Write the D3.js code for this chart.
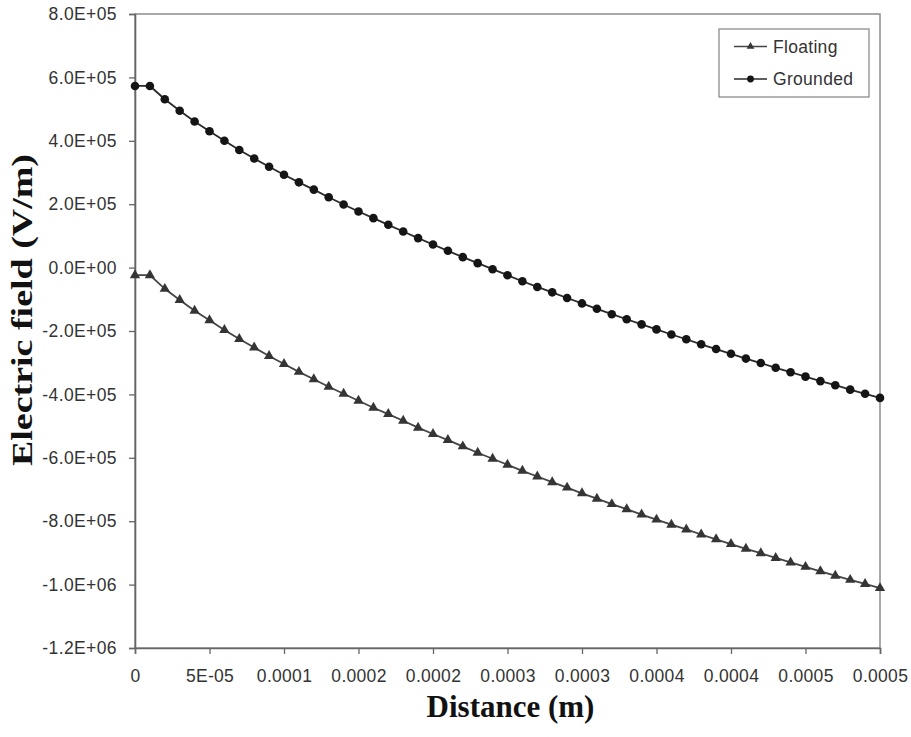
<!DOCTYPE html>
<html>
<head>
<meta charset="utf-8">
<script src="https://cdn.jsdelivr.net/npm/d3@7"></script>
<style>
  html, body { margin: 0; padding: 0; background: #ffffff; }
  svg { display: block; }
</style>
</head>
<body>
<svg id="chart" width="911" height="737"></svg>
<script>
// ---------------- DATA ----------------
const distance = [
  0, 0.00001, 0.00002, 0.00003, 0.00004, 0.00005, 0.00006, 0.00007, 0.00008, 0.00009,
  0.0001, 0.00011, 0.00012, 0.00013, 0.00014, 0.00015, 0.00016, 0.00017, 0.00018, 0.00019,
  0.0002, 0.00021, 0.00022, 0.00023, 0.00024, 0.00025, 0.00026, 0.00027, 0.00028, 0.00029,
  0.0003, 0.00031, 0.00032, 0.00033, 0.00034, 0.00035, 0.00036, 0.00037, 0.00038, 0.00039,
  0.0004, 0.00041, 0.00042, 0.00043, 0.00044, 0.00045, 0.00046, 0.00047, 0.00048, 0.00049,
  0.0005
];
const grounded = [
  573000, 573000, 531000, 495000, 461000, 430000, 400000, 371000, 344000, 318000,
  293000, 269000, 246000, 222000, 199000, 177000, 156000, 135000, 114000, 93000,
  73000, 53000, 33000, 14000, -5000, -24000, -43000, -61000, -78000, -96000,
  -113000, -130000, -147000, -163000, -179000, -195000, -211000, -226000, -242000, -257000,
  -272000, -287000, -301000, -316000, -330000, -344000, -358000, -371000, -385000, -398000,
  -411000
];
const floating = [
  -24000, -24000, -67000, -102000, -136000, -166000, -197000, -225000, -252000, -279000,
  -304000, -329000, -352000, -376000, -398000, -420000, -442000, -462000, -483000, -505000,
  -525000, -544000, -564000, -584000, -603000, -622000, -641000, -659000, -677000, -694000,
  -712000, -729000, -746000, -762000, -779000, -795000, -811000, -826000, -842000, -857000,
  -872000, -887000, -901000, -916000, -930000, -944000, -958000, -972000, -985000, -998000,
  -1011000
];
const xTickValues = [0, 0.00005, 0.0001, 0.00015, 0.0002, 0.00025, 0.0003, 0.00035, 0.0004, 0.00045, 0.0005];
const xTickLabels = ["0", "5E-05", "0.0001", "0.0002", "0.0002", "0.0003", "0.0003", "0.0004", "0.0004", "0.0005", "0.0005"];
const yTickValues = [800000, 600000, 400000, 200000, 0, -200000, -400000, -600000, -800000, -1000000, -1200000];
const yTickLabels = ["8.0E+05", "6.0E+05", "4.0E+05", "2.0E+05", "0.0E+00", "-2.0E+05", "-4.0E+05", "-6.0E+05", "-8.0E+05", "-1.0E+06", "-1.2E+06"];
const seriesNames = ["Floating", "Grounded"];
const xTitle = "Distance (m)";
const yTitle = "Electric field (V/m)";

// ---------------- LAYOUT ----------------
const L = 135, R = 880, T = 14, B = 648;
const svg = d3.select("#chart");

const x = d3.scaleLinear().domain([0, 0.0005]).range([L, R]);
const y = d3.scaleLinear().domain([-1200000, 800000]).range([B, T]);

const sansFont = "'Liberation Sans', Arial, sans-serif";
const serifFont = "'Liberation Serif', 'Times New Roman', serif";

// plot frame
svg.append("rect")
  .attr("x", L).attr("y", T).attr("width", R - L).attr("height", B - T)
  .attr("fill", "#ffffff").attr("stroke", "#8c8c8c").attr("stroke-width", 1.5);

// y axis
const yAxis = svg.append("g").attr("transform", `translate(${L},0)`)
  .call(d3.axisLeft(y).tickValues(yTickValues).tickFormat((d, i) => yTickLabels[i]).tickSize(6).tickPadding(12));
yAxis.select(".domain").attr("stroke", "#666").attr("stroke-width", 1.6);
yAxis.selectAll(".tick line").attr("stroke", "#666").attr("stroke-width", 1.3);
yAxis.selectAll(".tick text").attr("font-family", sansFont).attr("font-size", 17.5)
  .attr("fill", "#333").attr("letter-spacing", "0.4px");

// x axis
const xAxis = svg.append("g").attr("transform", `translate(0,${B})`)
  .call(d3.axisBottom(x).tickValues(xTickValues).tickFormat((d, i) => xTickLabels[i]).tickSize(6).tickPadding(16));
xAxis.select(".domain").attr("stroke", "#666").attr("stroke-width", 1.6);
xAxis.selectAll(".tick line").attr("stroke", "#666").attr("stroke-width", 1.3);
xAxis.selectAll(".tick text").attr("font-family", sansFont).attr("font-size", 17.5)
  .attr("fill", "#333").attr("letter-spacing", "0.3px");

// axis titles
svg.append("text")
  .attr("x", (L + R) / 2 + 3).attr("y", 717)
  .attr("text-anchor", "middle")
  .attr("font-family", serifFont).attr("font-weight", "bold").attr("font-size", 31)
  .attr("fill", "#111")
  .text(xTitle);

svg.append("text")
  .attr("transform", `translate(32,${310}) rotate(-90)`)
  .attr("text-anchor", "middle")
  .attr("font-family", serifFont).attr("font-weight", "bold").attr("font-size", 30)
  .attr("textLength", 312).attr("lengthAdjust", "spacingAndGlyphs")
  .attr("fill", "#111")
  .text(yTitle);

// series
const line = d3.line().x((d, i) => x(distance[i])).y(d => y(d));
const triangle = d3.symbol().type(d3.symbolTriangle).size(46);

svg.append("path").datum(floating)
  .attr("d", line).attr("fill", "none").attr("stroke", "#444").attr("stroke-width", 1.8);
svg.append("g").selectAll("path").data(floating).join("path")
  .attr("d", triangle)
  .attr("transform", (d, i) => `translate(${x(distance[i])},${y(d)})`)
  .attr("fill", "#353535");

svg.append("path").datum(grounded)
  .attr("d", line).attr("fill", "none").attr("stroke", "#2a2a2a").attr("stroke-width", 1.8);
svg.append("g").selectAll("circle").data(grounded).join("circle")
  .attr("cx", (d, i) => x(distance[i])).attr("cy", d => y(d)).attr("r", 4.3)
  .attr("fill", "#151515");

// legend
const lg = svg.append("g");
lg.append("rect").attr("x", 719).attr("y", 29).attr("width", 150).attr("height", 68)
  .attr("fill", "#fff").attr("stroke", "#8c8c8c").attr("stroke-width", 1.3);
const legendRows = [
  { name: seriesNames[0], yy: 46.5, kind: "tri" },
  { name: seriesNames[1], yy: 79, kind: "dot" }
];
legendRows.forEach(r => {
  lg.append("line").attr("x1", 734).attr("x2", 767).attr("y1", r.yy).attr("y2", r.yy)
    .attr("stroke", r.kind === "tri" ? "#444" : "#2a2a2a").attr("stroke-width", 1.6);
  if (r.kind === "tri") {
    lg.append("path").attr("d", d3.symbol().type(d3.symbolTriangle).size(26))
      .attr("transform", `translate(750.5,${r.yy})`).attr("fill", "#353535");
  } else {
    lg.append("circle").attr("cx", 750.5).attr("cy", r.yy).attr("r", 3.4).attr("fill", "#151515");
  }
  lg.append("text").attr("x", 773).attr("y", r.yy).attr("dy", "0.35em")
    .attr("font-family", sansFont).attr("font-size", 17.5).attr("fill", "#333")
    .attr("letter-spacing", "0.3px")
    .text(r.name);
});
</script>
</body>
</html>
